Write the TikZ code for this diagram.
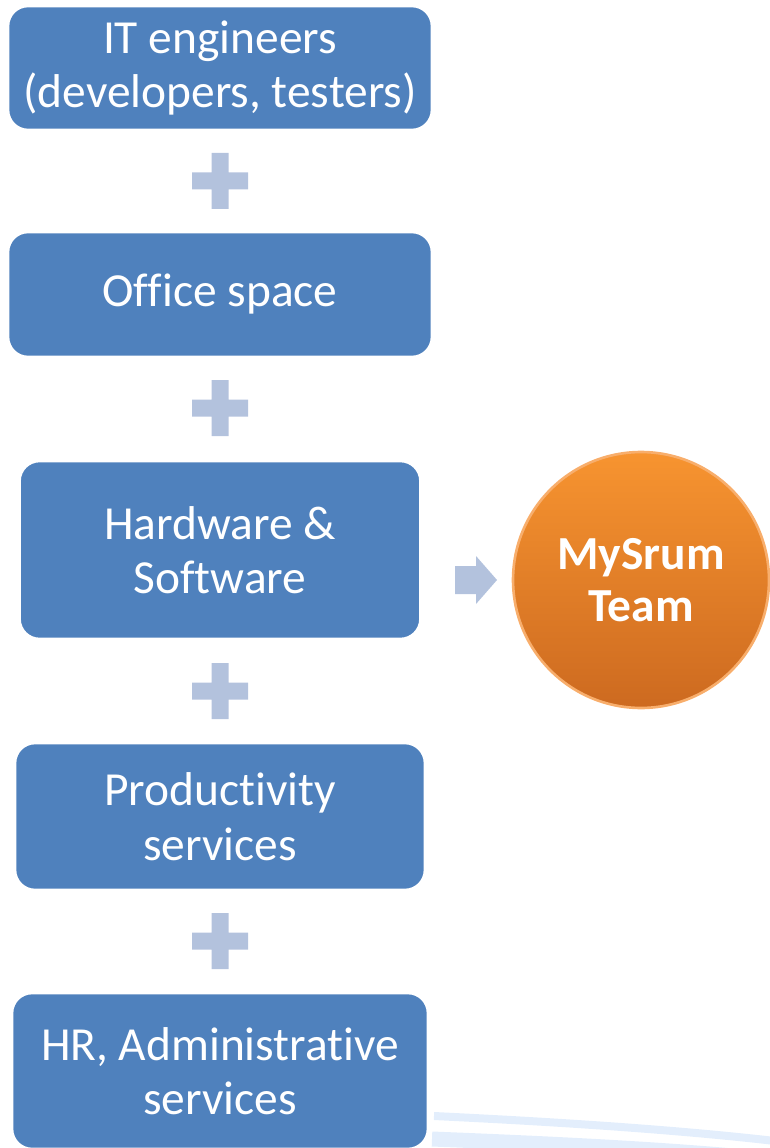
\documentclass[tikz,border=0pt]{standalone}
\usepackage{fontspec}
\setmainfont{Carlito}[RawFeature=-liga]
\usepackage{tikz}
\usetikzlibrary{shapes, arrows, positioning}
\definecolor{boxblue}{HTML}{4F81BD}
\definecolor{plusblue}{HTML}{B3C2DD}
\definecolor{orangetop}{HTML}{F79430}
\definecolor{orangebot}{HTML}{CD6A20}
\definecolor{orangeline}{HTML}{F8AE6C}
\definecolor{swoosh}{HTML}{E3EEFC}

\begin{document}
\begin{tikzpicture}[x=0.02cm, y=-0.02cm]
\tikzset{block/.style = {rectangle, rounded corners=0.4cm, fill=boxblue, draw=white, line width=1.5pt,
                         text=white, align=center, inner sep=0pt,
                         font=\fontsize{27}{31}\selectfont},
         team/.style = {circle, top color=orangetop, bottom color=orangebot, draw=orangeline,
                        line width=1.5pt, text=white, align=center, inner sep=0pt, minimum size=5.12cm,
                        font=\fontsize{27}{30}\selectfont\bfseries},
         plus/.style = {fill=plusblue}}
\useasboundingbox (0,0) rectangle (769,1148);
            % background
	\draw[swoosh, line width=0.16cm] (434,1116) .. controls (560,1122) and (680,1130) .. (775,1141);
	\draw[swoosh, line width=0.3cm] (432,1139) .. controls (560,1144) and (680,1150) .. (775,1160);
            % vertices
	\node[block, minimum width=8.48cm, minimum height=2.48cm] (eng) at (220,68) {IT engineers\\(developers, testers)};
	\node[block, minimum width=8.48cm, minimum height=2.5cm] (office) at (220,294.5) {Office space};
	\node[block, minimum width=8.02cm, minimum height=3.56cm] (hw) at (220,550) {Hardware \&\\Software};
	\node[block, minimum width=8.2cm, minimum height=2.94cm] (prod) at (220,816.5) {Productivity\\services};
	\node[block, minimum width=8.32cm, minimum height=3.12cm] (hr) at (220,1071) {HR, Administrative\\services};
	\node[team] (team) at (641,580) {MySrum\\Team};
            % arrow
	\coordinate (arr) at (455,580);
	\fill[plus] (arr) ++(0,-14) -- ++(21,0) -- ++(0,-10) -- ++(21,24) -- ++(-21,24) -- ++(0,-10)
	      -- ++(-21,0) -- cycle;
            % plus signs
	\foreach \py/\pn in {181/p1, 408/p2, 691/p3, 941/p4} {
	  \coordinate (\pn) at (220,\py);
	  \fill[plus] (\pn) ++(-8.5,-28) -- ++(17,0) -- ++(0,19.5) -- ++(19.5,0) -- ++(0,17) -- ++(-19.5,0)
	        -- ++(0,19.5) -- ++(-17,0) -- ++(0,-19.5) -- ++(-19.5,0) -- ++(0,-17) -- ++(19.5,0) -- cycle;
	}
\end{tikzpicture}
\end{document}
